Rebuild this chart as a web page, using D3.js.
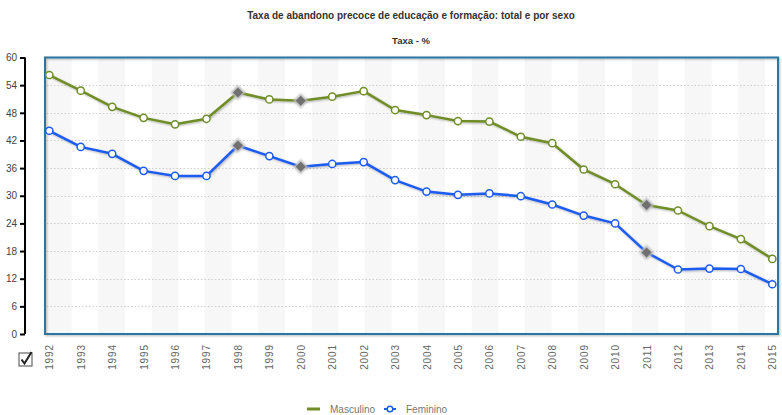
<!DOCTYPE html>
<html><head><meta charset="utf-8">
<script src="https://cdn.jsdelivr.net/npm/d3@7"></script>
<style>body{margin:0;background:#fff;} svg{display:block;font-family:Arial,"Liberation Sans",sans-serif;}</style>
</head><body><svg id="c" width="782" height="415"></svg>
<script>
const years = ["1992","1993","1994","1995","1996","1997","1998","1999","2000","2001","2002","2003","2004","2005","2006","2007","2008","2009","2010","2011","2012","2013","2014","2015"];
const masculino = [56.2,52.8,49.3,46.9,45.5,46.7,52.4,50.9,50.6,51.5,52.7,48.6,47.5,46.2,46.1,42.8,41.4,35.7,32.5,28.0,26.8,23.4,20.6,16.3];
const feminino = [44.1,40.6,39.1,35.4,34.3,34.3,40.9,38.6,36.3,36.9,37.3,33.4,30.9,30.2,30.5,29.9,28.1,25.7,24.0,17.7,14.0,14.2,14.1,10.8];
const flagged = ["1998","2000","2011"]; // break in series markers
const flaggedFem = ["1998","2000","2011"];
const yTicks = [0,6,12,18,24,30,36,42,48,54,60];
const title = "Taxa de abandono precoce de educação e formação: total e por sexo";
const subtitle = "Taxa - %";
const seriesNames = ["Masculino","Feminino"];
const colors = ["#6f8d28","#1d5cf0"];

const svg = d3.select("#c");
const L=45, R=778, T=57.5, B=334;
const x = d3.scalePoint().domain(years).range([49.3,772.3]);
const y = d3.scaleLinear().domain([0,60]).range([B,T]);

const defs = svg.append("defs");
const f = defs.append("filter").attr("id","sh").attr("x","-20%").attr("y","-20%").attr("width","140%").attr("height","140%");
f.append("feGaussianBlur").attr("in","SourceAlpha").attr("stdDeviation",1.2);
f.append("feOffset").attr("dx",0.5).attr("dy",1).attr("result","b");
f.append("feComponentTransfer").append("feFuncA").attr("type","linear").attr("slope",0.3);
const m = f.append("feMerge"); m.append("feMergeNode"); m.append("feMergeNode").attr("in","SourceGraphic");
const g2 = defs.append("filter").attr("id","glow").attr("x","-50%").attr("y","-50%").attr("width","200%").attr("height","200%");
g2.append("feGaussianBlur").attr("in","SourceGraphic").attr("stdDeviation",1.2);

// titles
svg.append("text").attr("x",411).attr("y",19).attr("text-anchor","middle").attr("font-size",10).attr("font-weight","bold").attr("fill","#333").text(title);
svg.append("text").attr("x",411).attr("y",44).attr("text-anchor","middle").attr("font-size",9.5).attr("font-weight","bold").attr("fill","#333").text(subtitle);

// stripes
const sw = 26.67;
const stripes = d3.range(L, R, sw*2);
svg.append("g").selectAll("rect").data(stripes).join("rect")
  .attr("x",d=>d).attr("y",T).attr("width",d=>Math.min(sw,R-d)).attr("height",B-T).attr("fill","#f7f7f7");

// grid
svg.append("g").selectAll("line").data(yTicks.filter(v=>v>0&&v<60)).join("line")
  .attr("x1",L+2).attr("x2",R-2).attr("y1",d=>Math.round(y(d))+0.5).attr("y2",d=>Math.round(y(d))+0.5)
  .attr("stroke","#cfcfcf").attr("stroke-width",1).attr("stroke-dasharray","1.5,2");

// frame
svg.append("rect").attr("x",L).attr("y",T).attr("width",R-L).attr("height",B-T)
  .attr("fill","none").attr("stroke","#2b76a6").attr("stroke-width",2).attr("filter","url(#sh)");

// y axis
const ya = svg.append("g").attr("transform","translate(25,0)").call(d3.axisLeft(y).tickValues(yTicks).tickSize(5).tickPadding(3));
ya.select(".domain").attr("stroke","#000").attr("stroke-width",2).attr("d",`M0,${T}V${B}`);
ya.selectAll(".tick line").attr("stroke","#000").attr("stroke-width",2);
ya.selectAll("text").attr("font-size",10).attr("fill","#444").attr("font-family","Arial,'Liberation Sans',sans-serif");

// x labels
const xa = svg.append("g").attr("transform",`translate(0,${B})`).call(d3.axisBottom(x).tickSize(0));
xa.select(".domain").remove();
xa.selectAll("text").attr("transform","rotate(-90)").attr("text-anchor","end")
  .attr("x",-10).attr("y",0).attr("dy","0.35em").attr("font-size",10).attr("fill","#666")
  .attr("letter-spacing",0.9).attr("font-family","Arial,'Liberation Sans',sans-serif");

// checkbox
const cb = svg.append("g").attr("transform","translate(19,353)");
cb.append("rect").attr("x",0).attr("y",0).attr("width",13).attr("height",13).attr("fill","#fff").attr("stroke","#666").attr("stroke-width",1.2);
cb.append("path").attr("d","M2.5,6.5 L5.5,10.5 L12.5,-1").attr("fill","none").attr("stroke","#222").attr("stroke-width",2);

// lines
const line = d3.line().x((d,i)=>x(years[i])).y(d=>y(d));
[masculino,feminino].forEach((s,k)=>{
  svg.append("path").datum(s).attr("d",line).attr("fill","none").attr("stroke",colors[k]).attr("stroke-width",2.5)
    .attr("stroke-linejoin","round").attr("filter","url(#sh)");
});
// markers
[masculino,feminino].forEach((s,k)=>{
  const fl = k===0?flagged:flaggedFem;
  const g = svg.append("g");
  s.forEach((v,i)=>{
    const yr = years[i];
    if (fl.includes(yr)) {
      const d = `M${x(yr)},${y(v)-7.5}L${x(yr)+7.5},${y(v)}L${x(yr)},${y(v)+7.5}L${x(yr)-7.5},${y(v)}Z`;
      g.append("path").attr("d",d).attr("fill","#bbb").attr("filter","url(#glow)");
      const d2 = `M${x(yr)},${y(v)-5}L${x(yr)+5},${y(v)}L${x(yr)},${y(v)+5}L${x(yr)-5},${y(v)}Z`;
      g.append("path").attr("d",d2).attr("fill","#707070");
    } else {
      g.append("circle").attr("cx",x(yr)).attr("cy",y(v)).attr("r",3.6).attr("fill","#fff").attr("stroke",colors[k]).attr("stroke-width",1.5);
    }
  });
});

// legend
const lg = svg.append("g");
lg.append("line").attr("x1",307).attr("x2",320).attr("y1",409).attr("y2",409).attr("stroke",colors[0]).attr("stroke-width",3);
lg.append("text").attr("x",330).attr("y",413).attr("font-size",10).attr("fill","#777").text(seriesNames[0]);
lg.append("line").attr("x1",384).attr("x2",396).attr("y1",409).attr("y2",409).attr("stroke",colors[1]).attr("stroke-width",2);
lg.append("circle").attr("cx",390).attr("cy",409).attr("r",2.8).attr("fill","#fff").attr("stroke",colors[1]).attr("stroke-width",1.5);
lg.append("text").attr("x",406).attr("y",413).attr("font-size",10).attr("fill","#777").text(seriesNames[1]);
</script></body></html>
